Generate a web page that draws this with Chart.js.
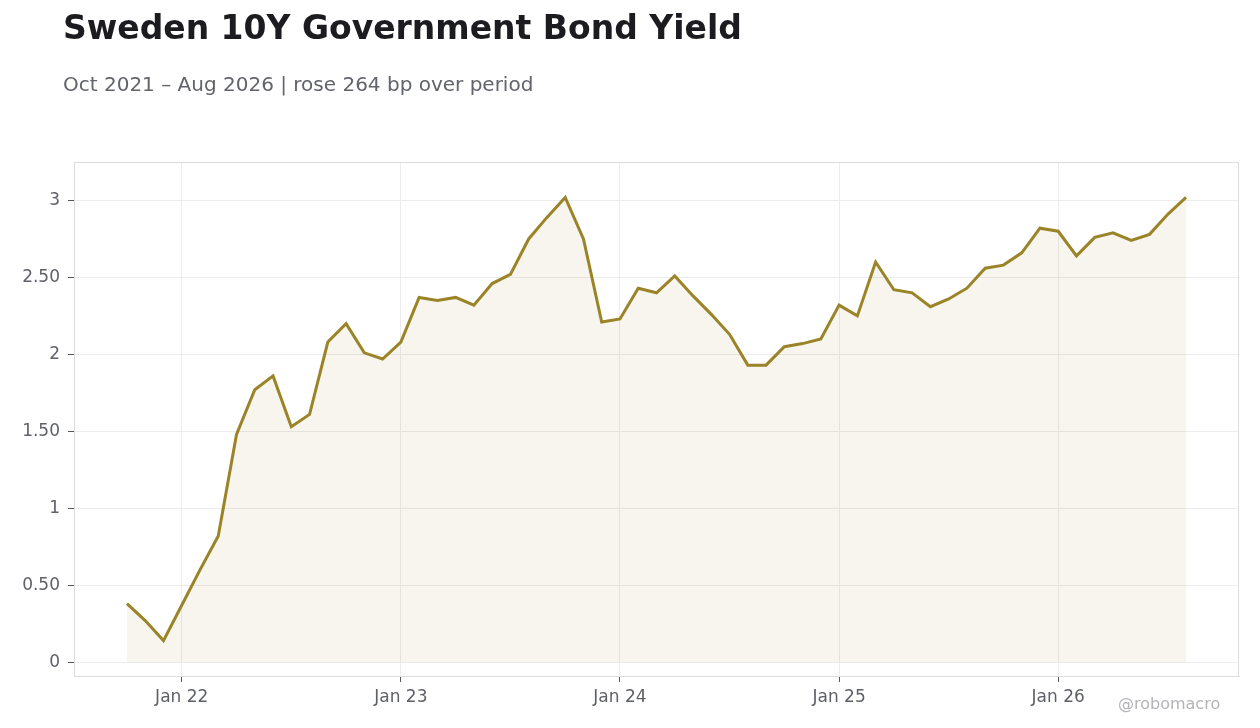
<!DOCTYPE html>
<html>
<head>
<meta charset="utf-8">
<script src="https://cdn.jsdelivr.net/npm/chart.js@4.4.1/dist/chart.umd.min.js"></script>
<style>
  html, body { margin: 0; padding: 0; background: #fff; }
  body { width: 1260px; height: 728px; position: relative; overflow: hidden; font-family: "DejaVu Sans", sans-serif; }
  #title { position: absolute; left: 63px; top: 8px; font-size: 33px; font-weight: bold; color: #1c1c20; white-space: nowrap; }
  #subtitle { position: absolute; left: 63px; top: 72px; font-size: 20px; color: #62646b; white-space: nowrap; }
  #credit { position: absolute; left: 1118px; top: 694px; font-size: 16px; color: #b4b4b8; }
  #wrap { position: absolute; left: 0; top: 0; width: 1260px; height: 728px; }
</style>
</head>
<body>
<div id="wrap"><canvas id="chart"></canvas></div>
<div id="title">Sweden 10Y Government Bond Yield</div>
<div id="subtitle">Oct 2021 – Aug 2026 | rose 264 bp over period</div>
<div id="credit">@robomacro</div>
<script>
// monthly 10Y yield, %
var months = [
  '2021-10', '2021-11', '2021-12',
  '2022-01', '2022-02', '2022-03', '2022-04', '2022-05', '2022-06', '2022-07', '2022-08', '2022-09', '2022-10', '2022-11', '2022-12',
  '2023-01', '2023-02', '2023-03', '2023-04', '2023-05', '2023-06', '2023-07', '2023-08', '2023-09', '2023-10', '2023-11', '2023-12',
  '2024-01', '2024-02', '2024-03', '2024-04', '2024-05', '2024-06', '2024-07', '2024-08', '2024-09', '2024-10', '2024-11', '2024-12',
  '2025-01', '2025-02', '2025-03', '2025-04', '2025-05', '2025-06', '2025-07', '2025-08', '2025-09', '2025-10', '2025-11', '2025-12',
  '2026-01', '2026-02', '2026-03', '2026-04', '2026-05', '2026-06', '2026-07', '2026-08'
];
var yields = [
  0.38, 0.27, 0.14,
  0.37, 0.60, 0.82, 1.48, 1.77, 1.86, 1.53, 1.61, 2.08, 2.20, 2.01, 1.97,
  2.08, 2.37, 2.35, 2.37, 2.32, 2.46, 2.52, 2.75, 2.89, 3.02, 2.75, 2.21,
  2.23, 2.43, 2.40, 2.51, 2.38, 2.26, 2.13, 1.93, 1.93, 2.05, 2.07, 2.10,
  2.32, 2.25, 2.60, 2.42, 2.40, 2.31, 2.36, 2.43, 2.56, 2.58, 2.66, 2.82,
  2.80, 2.64, 2.76, 2.79, 2.74, 2.78, 2.91, 3.02
];
var xTickMonths = ['2022-01', '2023-01', '2024-01', '2025-01', '2026-01'];
var xTickLabels = ['Jan 22', 'Jan 23', 'Jan 24', 'Jan 25', 'Jan 26'];
var yTicks = [0, 0.5, 1, 1.5, 2, 2.5, 3];

var points = yields.map(function (v, i) { return { x: i, y: v }; });

var frame = {
  id: 'frame',
  afterDraw: function (chart) {
    var a = chart.chartArea, ctx = chart.ctx;
    ctx.save();
    ctx.strokeStyle = '#dddde0';
    ctx.lineWidth = 1;
    ctx.strokeRect(a.left + 0.5, a.top + 0.5, a.right - a.left - 1, a.bottom - a.top);
    ctx.restore();
  }
};

new Chart(document.getElementById('chart'), {
  type: 'line',
  data: {
    datasets: [{
      data: points,
      borderColor: '#9b8328',
      backgroundColor: 'rgba(155,130,40,0.08)',
      borderWidth: 3,
      pointRadius: 0,
      tension: 0,
      fill: 'origin'
    }]
  },
  options: {
    responsive: true,
    maintainAspectRatio: false,
    devicePixelRatio: 1,
    animation: false,
    layout: { padding: { top: 162, right: 21, left: 0, bottom: 0 } },
    plugins: { legend: { display: false }, tooltip: { enabled: false } },
    scales: {
      x: {
        type: 'linear',
        min: -2.9,
        max: 60.9,
        afterBuildTicks: function (s) {
          s.ticks = xTickMonths.map(function (m) { return { value: months.indexOf(m) }; });
        },
        afterFit: function (s) { s.height = 52; },
        ticks: {
          autoSkip: false,
          maxRotation: 0,
          padding: 5,
          color: '#5f6168',
          font: { family: 'DejaVu Sans', size: 17 },
          callback: function (v) { return xTickLabels[xTickMonths.indexOf(months[v])]; }
        },
        grid: { color: '#ececee', tickColor: '#55575e', tickLength: 6 },
        border: { color: '#dddde0' }
      },
      y: {
        min: -0.09,
        max: 3.25,
        afterBuildTicks: function (s) {
          s.ticks = yTicks.map(function (v) { return { value: v }; });
        },
        afterFit: function (s) { s.width = 74; },
        ticks: {
          padding: 8,
          color: '#5f6168',
          font: { family: 'DejaVu Sans', size: 17 },
          callback: function (v) { return Number.isInteger(v) ? String(v) : v.toFixed(2); }
        },
        grid: { color: '#ececee', tickColor: '#55575e', tickLength: 6 },
        border: { color: '#dddde0' }
      }
    }
  },
  plugins: [frame]
});
</script>
</body>
</html>
